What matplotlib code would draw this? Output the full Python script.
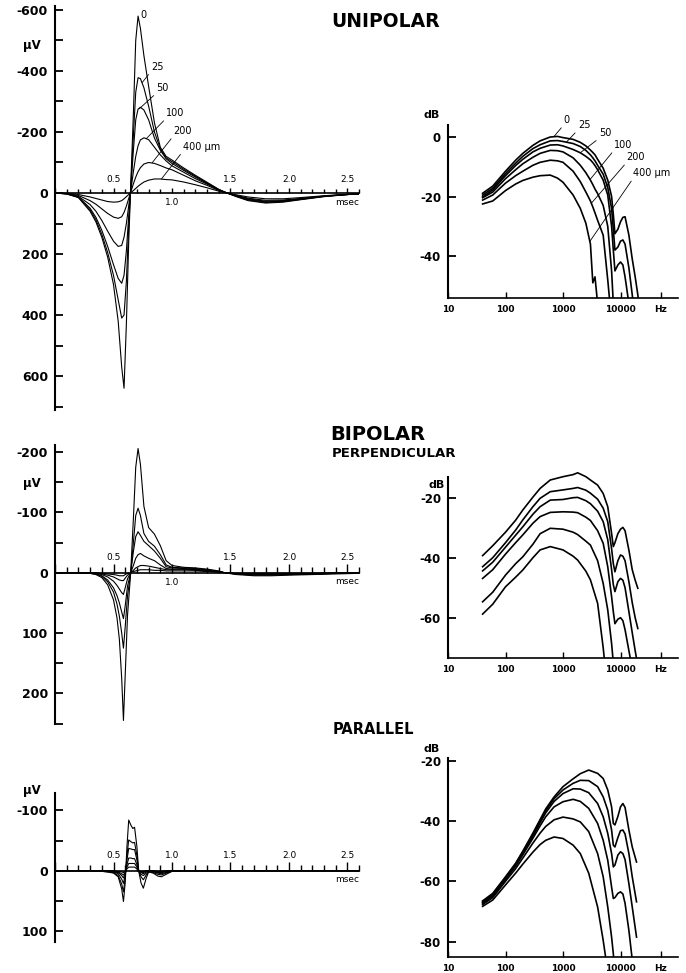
import matplotlib
matplotlib.use("Agg")
import matplotlib.pyplot as plt
from matplotlib.ticker import MultipleLocator, NullLocator

plt.rcParams['font.family'] = ['DejaVu Sans']
plt.rcParams['axes.unicode_minus'] = False

# ---------------- data ----------------
# unipolar waveforms (µV, negative = up), distances 0..400 µm
T_UNI = [0.0, 0.1, 0.2, 0.3, 0.35, 0.4, 0.45, 0.5, 0.54, 0.57, 0.59, 0.61, 0.63, 0.645,
         0.67, 0.69, 0.71, 0.73, 0.76, 0.8, 0.85, 0.9, 0.95, 1.0, 1.1, 1.2, 1.3, 1.4, 1.47,
         1.55, 1.65, 1.8, 1.95, 2.1, 2.3, 2.5, 2.6]
U0 = [0, 3, 15, 60, 95, 145, 210, 300, 420, 570, 640, 430, 160, 0,
      -260, -500, -580, -540, -450, -350, -230, -150, -120, -108, -82, -58, -35, -12, 0,
      12, 25, 33, 30, 22, 12, 5, 3]
U25 = [0, 3, 14, 55, 88, 135, 195, 270, 350, 410, 400, 290, 110, 0,
       -190, -330, -378, -375, -345, -285, -200, -145, -115, -103, -78, -55, -33, -11, 0,
       11, 23, 31, 28, 21, 11, 5, 3]
U50 = [0, 3, 13, 50, 80, 122, 175, 235, 280, 296, 270, 190, 75, 0,
       -140, -240, -275, -281, -272, -240, -180, -140, -112, -97, -74, -52, -31, -10, 0,
       10, 21, 29, 27, 20, 11, 5, 3]
U100 = [0, 2, 11, 38, 60, 90, 125, 158, 175, 172, 145, 100, 42, 0,
        -70, -120, -155, -174, -181, -175, -150, -125, -105, -89, -68, -47, -29, -10, 0,
        9, 19, 27, 25, 19, 10, 5, 3]
U200 = [0, 2, 8, 25, 37, 52, 67, 79, 83, 78, 64, 43, 18, 0,
        -30, -52, -70, -83, -95, -100, -97, -90, -82, -76, -58, -40, -25, -8, 0,
        8, 17, 24, 23, 18, 10, 5, 3]
U400 = [0, 1, 5, 13, 18, 23, 28, 30, 29, 25, 19, 12, 5, 0,
        -8, -15, -22, -28, -36, -42, -46, -46, -44, -43, -36, -27, -17, -6, 0,
        6, 13, 19, 19, 15, 9, 4, 2]

# unipolar spectra (dB)
F_UNI = [40, 60, 100, 150, 200, 300, 400, 600, 800, 1000, 1500, 2000, 2500, 3000, 3300,
         3600, 4000, 5000, 6000, 7000, 7500, 8000, 9000, 10000, 11000, 12000, 14000,
         16000, 18000, 20000, 22000]
S0 = [-18.9, -16.5, -11.5, -7.8, -5.5, -2.8, -1.3, 0.0, 0.2, -0.2, -0.8, -1.8, -3.0, -4.4, -5.2,
      -6.0, -7.5, -10.5, -14.5, -20, -26, -32.5, -31, -28.5, -27, -26.8, -33, -41, -47, -53, -60]
S25 = [-19.5, -17.2, -12.3, -8.8, -6.5, -3.9, -2.6, -1.3, -1.2, -1.5, -2.2, -3.2, -4.5, -6.0, -7.0,
       -8.0, -9.5, -12.5, -17, -24, -31, -38, -37, -35, -34.6, -36, -44, -53, -62]
S50 = [-20.1, -17.8, -13.0, -9.6, -7.5, -5.0, -3.8, -2.7, -2.6, -3.0, -4.2, -5.3, -6.5, -7.7, -8.6,
       -9.6, -11, -14.5, -19.5, -30, -38, -45, -43, -42, -43, -47, -56]
S100 = [-20.4, -18.5, -14.0, -11.0, -9.0, -6.8, -5.5, -4.5, -4.6, -5.0, -7.0, -9.5, -12, -14.5, -16,
        -17.5, -19, -23, -30, -45, -56]
S200 = [-21.2, -19.5, -15.5, -13.0, -11.5, -9.5, -8.5, -7.8, -8.0, -8.5, -11.5, -15, -18.5, -21.5,
        -23.5, -25.5, -28, -33, -48, -62]
S400 = [-22.5, -21.5, -18.0, -15.8, -14.6, -13.5, -13.0, -12.8, -13.8, -15.2, -19.5, -24, -29, -36,
        -49, -47, -56]

# bipolar perpendicular waveforms
T_PERP = [0.0, 0.2, 0.3, 0.35, 0.4, 0.45, 0.5, 0.53, 0.55, 0.57, 0.585, 0.6, 0.62, 0.647,
          0.67, 0.69, 0.71, 0.73, 0.76, 0.8, 0.85, 0.9, 0.95, 1.0, 1.1, 1.2, 1.3, 1.4, 1.45,
          1.55, 1.7, 1.85, 2.0, 2.2, 2.4, 2.6]
PA = [0, 0, 1, 3, 8, 20, 45, 75, 110, 175, 245, 170, 70, 0,
      -90, -175, -206, -180, -110, -75, -64, -45, -20, -12, -9, -8, -6, -3, 0,
      3, 5, 5, 4, 3, 2, 1]
PB = [0, 0, 1, 2, 6, 15, 32, 52, 72, 100, 125, 90, 38, 0,
      -50, -95, -107, -95, -65, -52, -44, -30, -13, -9, -8, -7, -5, -2, 0,
      2, 4, 4, 3, 2, 1, 1]
PC = [0, 0, 1, 2, 5, 12, 25, 38, 50, 65, 76, 55, 22, 0,
      -35, -60, -68, -62, -52, -45, -36, -24, -10, -8, -7, -6, -4, -2, 0,
      2, 3, 3, 3, 2, 1, 0]
PD = [0, 0, 0, 1, 3, 7, 14, 21, 27, 33, 36, 25, 10, 0,
      -12, -24, -30, -32, -28, -24, -20, -13, -7, -6, -6, -5, -4, -2, 0,
      2, 3, 3, 2, 2, 1, 0]
PE = [0, 0, 0, 1, 2, 4, 7, 10, 12, 13, 13, 9, 4, 0,
      -4, -8, -10, -12, -12, -11, -9, -7, -5, -5, -5, -4, -3, -1, 0,
      1, 2, 2, 2, 1, 1, 0]
PF = [0, 0, 0, 0, 1, 2, 3, 4, 5, 5, 5, 3, 1, 0,
      -2, -3, -4, -5, -5, -5, -4, -4, -3, -3, -3, -3, -2, -1, 0,
      1, 1, 1, 1, 1, 0, 0]

# bipolar perpendicular spectra
F_PERP = [40, 60, 100, 150, 200, 300, 400, 600, 1000, 1500, 1800, 2500, 3000, 4000, 5000,
          6000, 7000, 7500, 8000, 9000, 10000, 11000, 12000, 14000, 16000, 18000, 20000]
P1 = [-39.3, -36, -31.5, -27.5, -24.1, -19.8, -16.9, -14.1, -13.0, -12.3, -11.7, -13.0, -14.1,
      -15.8, -18.6, -23, -31.9, -36.3, -35, -32, -30.5, -29.9, -31, -37.5, -44, -47.5, -50.2]
P2 = [-43, -40, -35, -30.8, -27.4, -23, -20.2, -18, -17.4, -16.9, -16.6, -17.5, -18.5,
      -20.5, -23.5, -28, -37, -42, -44.7, -41, -39.1, -39.5, -41, -48, -55, -60, -63.6]
P3 = [-44.4, -41.5, -36.5, -32.5, -29.7, -25.5, -23, -20.8, -20.6, -20, -19.9, -21, -22,
      -24.5, -28, -34, -44, -49, -51.3, -48, -46.9, -47.5, -50, -58, -65, -71, -76]
P4 = [-46.9, -44, -38.8, -35, -32.4, -28.5, -26.3, -24.9, -24.7, -24.8, -25, -26.5, -27.6,
      -31, -35.2, -43, -53, -58, -62, -60.5, -60, -61, -64, -71, -77]
P5 = [-54.7, -51.5, -45.8, -42, -39.7, -35.5, -32, -30.2, -30.5, -31.5, -32.3, -34.5, -35.8,
      -41, -48.6, -57.4, -68.6, -75]
P6 = [-58.8, -55.5, -49.7, -46.5, -44.1, -40, -37.4, -36.3, -37.4, -39.5, -40.8, -44.5, -47.4,
      -55.2, -70, -85]

# bipolar parallel waveforms
T_PAR = [0.0, 0.3, 0.4, 0.45, 0.5, 0.54, 0.57, 0.585, 0.6, 0.615, 0.63, 0.65, 0.665, 0.68,
         0.7, 0.715, 0.735, 0.755, 0.78, 0.8, 0.84, 0.88, 0.91, 0.95, 1.0, 1.1, 2.6]
RA = [0, 0, 1, 2, 4, 10, 30, 51, 20, -40, -84, -75, -70, -72, -40, 0, 20, 29, 12, 2, 4, 9, 10, 6, 1, 0, 0]
RB = [0, 0, 1, 2, 3, 8, 22, 35, 12, -25, -51, -48, -46, -47, -25, 0, 10, 15, 7, 2, 3, 6, 7, 4, 1, 0, 0]
RC = [0, 0, 1, 1, 2, 5, 14, 21, 7, -18, -37, -36, -35, -35, -18, 0, 6, 8, 4, 1, 2, 4, 5, 3, 1, 0, 0]
RD = [0, 0, 0, 1, 2, 3, 8, 12, 4, -10, -21, -21, -20, -20, -10, 0, 3, 5, 2, 1, 1, 3, 3, 2, 0, 0, 0]
RE = [0, 0, 0, 1, 1, 2, 5, 7, 2, -6, -12, -12, -12, -12, -6, 0, 2, 3, 1, 0, 1, 2, 2, 1, 0, 0, 0]
RF = [0, 0, 0, 0, 0, 1, 2, 3, 1, -3, -6, -6, -6, -6, -3, 0, 1, 1, 0, 0, 0, 1, 1, 0, 0, 0, 0]

# bipolar parallel spectra
F_PAR = [40, 60, 100, 150, 200, 300, 400, 500, 700, 1000, 1500, 2000, 2800, 4000, 5000, 6000,
         7000, 7500, 8000, 9000, 10000, 11000, 12000, 14000, 16000, 19000]
Q1 = [-66.5, -64, -58.5, -54, -50, -44, -39.5, -36, -32, -28.6, -26, -24.3, -23.1, -24.2, -25.9,
      -29.7, -35.3, -40.8, -41.3, -38.5, -35.3, -34.2, -35.5, -43, -48.6, -53.6]
Q2 = [-66.8, -64.3, -58.8, -54.3, -50.3, -44.5, -40, -36.6, -32.6, -29.7, -27.5, -26.5, -26.6,
      -28.6, -32, -36.4, -43, -48, -48.6, -45.5, -43.2, -43, -44.3, -50.8, -58.5, -66.8]
Q3 = [-67, -64.6, -59, -54.6, -50.7, -45, -40.6, -37.3, -33.5, -30.9, -29.3, -29.4, -30.6,
      -34.2, -38.6, -44.1, -50.8, -55.2, -54.6, -51.3, -50.2, -50.8, -52.8, -60.8, -68.5, -78.5]
Q4 = [-67.3, -64.9, -59.4, -55, -51.2, -45.7, -41.6, -38.6, -35.3, -33.6, -32.8, -33.5, -35.8,
      -40.8, -46.4, -53, -61.9, -65.7, -65.4, -64, -63.5, -64.2, -67.3, -76.3, -86]
Q5 = [-67.7, -65.4, -60, -55.8, -52.3, -47.3, -44, -41.8, -39.6, -38.7, -39.3, -40.3, -43.5,
      -50.8, -58.5, -68.5, -78.5, -84, -90]
Q6 = [-68.3, -66.2, -61.2, -57.3, -54.3, -50.3, -47.8, -46.4, -45.3, -45.8, -48, -50.8, -57.3,
      -68.5, -79.6, -90]

# labels and ticks
DIST_LABELS = ['0', '25', '50', '100', '200', '400 µm']
TIME_TICKS = [0.5, 1.0, 1.5, 2.0, 2.5]
TIME_LABELS = ['0.5', '1.0', '1.5', '2.0', '2.5']
HZ_TICKS = [10, 100, 1000, 10000, 50000]
HZ_LABELS = ['10', '100', '1000', '10000', 'Hz']

# label anchor points (text pos, curve point) in data coords
UNI_WAVE_ANN = [((0.76, -584), None), ((0.872, -414), (0.745, -362)), ((0.92, -344), (0.72, -276)),
                ((1.03, -262), (0.78, -178)), ((1.09, -203), (0.83, -99)), ((1.25, -152), (0.91, -46))]
UNI_SPEC_ANN = [((1160, 5.7), (700, 0.2)), ((2320, 4.0), (1160, -1.6)), ((5400, 1.2), (2000, -5.3)),
                ((11200, -2.7), (2950, -14.3)), ((18600, -6.8), (3100, -22.3)),
                ((35000, -12.2), (2950, -35))]

W, H = 686, 973
fig = plt.figure(figsize=(W / 100, H / 100), dpi=100)


def box(x0, y0, x1, y1):
    return [x0 / W, 1 - y1 / H, (x1 - x0) / W, (y1 - y0) / H]


def wave_panel(rect, t, curves, ylim, yticks, yminor, uv_y, below, tmaj, tmin, up):
    ax = fig.add_axes(rect)
    for v in curves:
        ax.plot(t, v, color='black', lw=0.8)
    ax.set_xlim(0, 2.6)
    ax.set_ylim(*ylim)
    for s in ['top', 'right']:
        ax.spines[s].set_visible(False)
    ax.spines['bottom'].set_position(('data', 0))
    ax.spines['bottom'].set_linewidth(1.2)
    ax.spines['left'].set_linewidth(1.5)
    ax.xaxis.set_major_locator(MultipleLocator(0.5))
    ax.xaxis.set_minor_locator(MultipleLocator(0.1))
    ax.tick_params(axis='x', which='both', direction='in', labelbottom=False, width=1)
    ax.tick_params(axis='x', which='major', length=tmaj)
    ax.tick_params(axis='x', which='minor', length=tmin)
    ax.set_yticks(yticks)
    ax.set_yticklabels([str(v) for v in yticks])
    ax.yaxis.set_minor_locator(MultipleLocator(yminor))
    ax.tick_params(axis='y', which='both', direction='in', length=5.5, width=1.3)
    ax.tick_params(axis='y', which='major', pad=5, labelsize=9)
    for lab in ax.get_yticklabels():
        lab.set_fontweight('bold')
    for tv, tl in zip(TIME_TICKS, TIME_LABELS):
        off = -7 if tl in below else up
        ax.annotate(tl, (tv, 0), xytext=(0, off), textcoords='offset points',
                    ha='center', va='center', fontsize=6.5)
    ax.annotate('msec', (2.6, 0), xytext=(0, -6.5), textcoords='offset points',
                ha='right', va='center', fontsize=6.5)
    ax.text(-0.077, uv_y, 'µV', transform=ax.get_yaxis_transform(), ha='center',
            va='center', fontsize=8.5, fontweight='bold', clip_on=False)
    return ax


def spec_panel(rect, f, curves, ylim, yticks, db_pos, spine_top=None):
    ax = fig.add_axes(rect)
    for s in curves:
        ax.plot(f[:len(s)], s, color='black', lw=1.2)
    ax.set_xscale('log')
    ax.set_xlim(10, 1e5)
    ax.set_ylim(*ylim)
    for s in ['top', 'right']:
        ax.spines[s].set_visible(False)
    if spine_top is not None:
        ax.spines['left'].set_bounds(ylim[0], spine_top)
    ax.spines['bottom'].set_linewidth(1.2)
    ax.spines['left'].set_linewidth(1.5)
    ax.set_xticks(HZ_TICKS)
    ax.set_xticklabels(HZ_LABELS)
    ax.xaxis.set_minor_locator(NullLocator())
    ax.set_yticks(yticks)
    ax.set_yticklabels([str(v) for v in yticks])
    ax.tick_params(axis='x', direction='in', length=4, width=1, pad=5, labelsize=6.5)
    ax.tick_params(axis='y', direction='in', length=6, width=1.3, pad=5, labelsize=8.5)
    for lab in ax.get_xticklabels() + ax.get_yticklabels():
        lab.set_fontweight('bold')
    ax.text(db_pos[0], db_pos[1], 'dB', transform=ax.get_yaxis_transform(), ha='center',
            va='center', fontsize=8, fontweight='bold', clip_on=False)
    return ax


# unipolar
axA = wave_panel(box(55, 6.3, 359.2, 410.2), T_UNI, [U0, U25, U50, U100, U200, U400],
                 (712, -612), [-600, -400, -200, 0, 200, 400, 600], 100, -485, ['1.0'],
                 3.5, 3, 9.5)
for lab, (txt, pt) in zip(DIST_LABELS, UNI_WAVE_ANN):
    if pt is None:
        axA.text(txt[0], txt[1], lab, ha='center', va='center', fontsize=7)
    else:
        axA.annotate(lab, pt, xytext=txt, ha='center', va='center', fontsize=7,
                     arrowprops=dict(arrowstyle='-', lw=0.6, color='black',
                                     relpos=(0, 0), shrinkA=0, shrinkB=0))

axB = spec_panel(box(448, 125.1, 678, 297.7), F_UNI, [S0, S25, S50, S100, S200, S400],
                 (-54, 4), [0, -20, -40], (-0.071, 7.4))
for lab, (txt, pt) in zip(DIST_LABELS, UNI_SPEC_ANN):
    axB.annotate(lab, pt, xytext=txt, ha='center', va='center', fontsize=7,
                 annotation_clip=False,
                 arrowprops=dict(arrowstyle='-', lw=0.6, color='black',
                                 relpos=(0, 0), shrinkA=0, shrinkB=0))

# bipolar perpendicular
wave_panel(box(55, 444.9, 359.2, 723.5), T_PERP, [PA, PB, PC, PD, PE, PF],
           (250, -212), [-200, -100, 0, 100, 200], 50, -148, ['1.0'], 6.5, 4.3, 11)
spec_panel(box(448, 467.7, 678, 658.2), F_PERP, [P1, P2, P3, P4, P5, P6],
           (-73.5, -10), [-20, -40, -60], (-0.049, -15.8), spine_top=-13)

# bipolar parallel
wave_panel(box(55, 793.5, 359.2, 941.9), T_PAR, [RA, RB, RC, RD, RE, RF],
           (118, -128), [-100, 0, 100], 50, -133, [], 6.5, 4.3, 11)
spec_panel(box(448, 757.7, 678, 956.7), F_PAR, [Q1, Q2, Q3, Q4, Q5, Q6],
           (-85, -19), [-20, -40, -60, -80], (-0.071, -16.2))

# titles
fig.text(331 / W, 1 - 21.5 / H, 'UNIPOLAR', ha='left', va='center', fontsize=13.5,
         fontweight='bold')
fig.text(330 / W, 1 - 435 / H, 'BIPOLAR', ha='left', va='center', fontsize=14,
         fontweight='bold')
fig.text(332 / W, 1 - 454 / H, 'PERPENDICULAR', ha='left', va='center', fontsize=9.5,
         fontweight='bold')
fig.text(333 / W, 1 - 730 / H, 'PARALLEL', ha='left', va='center', fontsize=10.5,
         fontweight='bold')

fig.savefig('out.png', dpi=100)
